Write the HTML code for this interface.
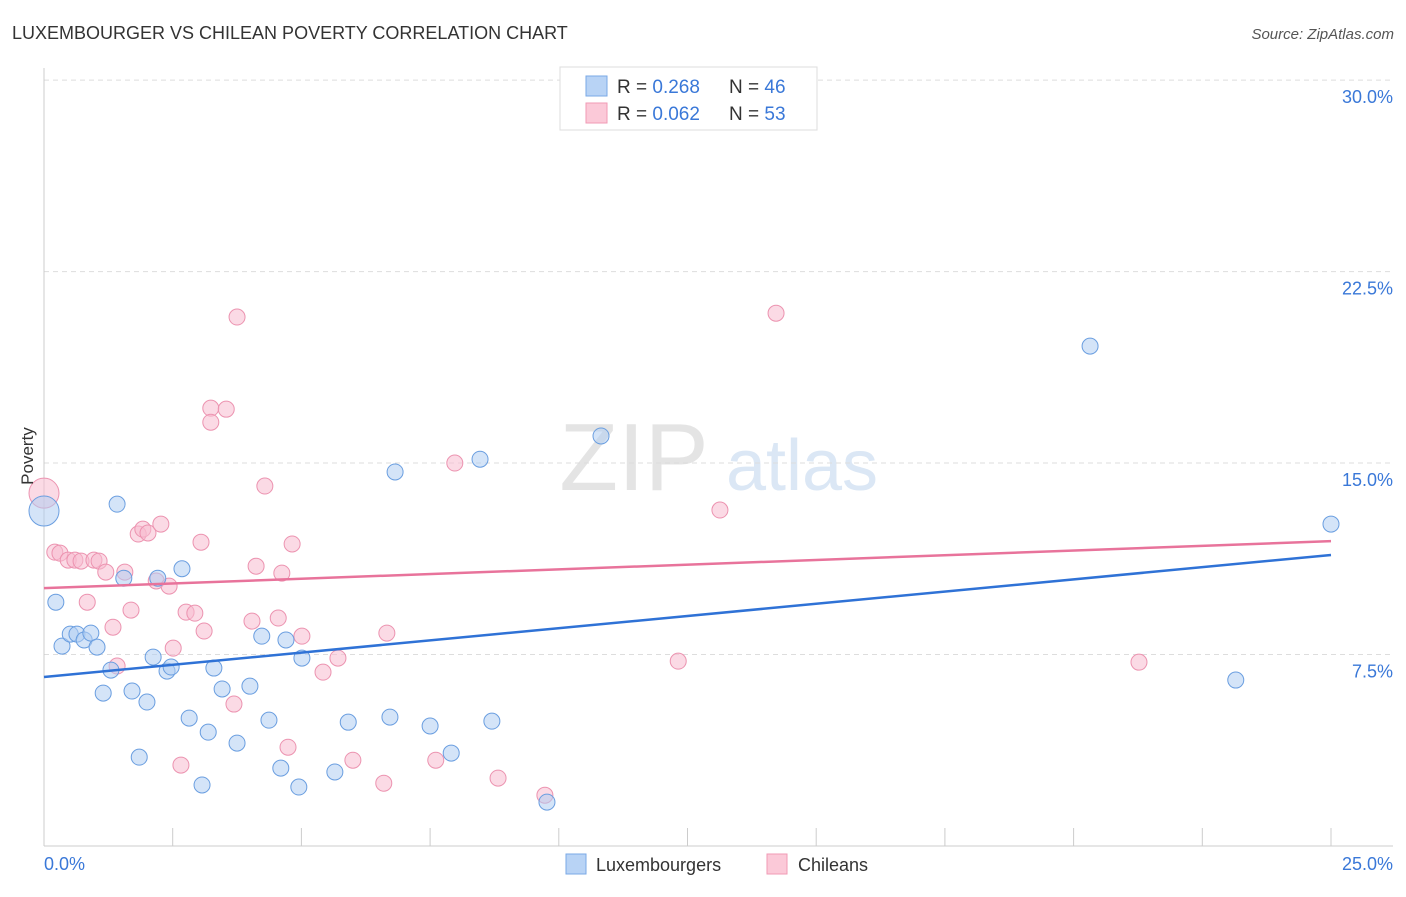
<!DOCTYPE html>
<html><head><meta charset="utf-8"><style>
body{margin:0;background:#fff;font-family:"Liberation Sans",sans-serif;}
svg text{font-family:"Liberation Sans",sans-serif;}
</style></head><body>
<svg id="chart" width="1406" height="892" viewBox="0 0 1406 892">
<text x="12" y="39" font-size="18" fill="#333">LUXEMBOURGER VS CHILEAN POVERTY CORRELATION CHART</text>
<text x="1394" y="39" font-size="15" fill="#555" font-style="italic" text-anchor="end">Source: ZipAtlas.com</text>
<g><text x="634" y="490" font-size="96" fill="#e4e4e4" text-anchor="middle" font-family="Liberation Serif,serif">ZIP</text><text x="802" y="490" font-size="72" fill="#dbe7f5" text-anchor="middle">atlas</text></g>
<g id="grid"></g>
<g id="axes"></g>
<g id="marks"></g>
<text x="33" y="456" font-size="17" fill="#333" text-anchor="middle" transform="rotate(-90 33 456)">Poverty</text>
<g>
<rect x="560" y="67" width="257" height="63" fill="#fff" stroke="#ddd"/>
<rect x="586" y="76" width="21" height="20" fill="#b8d3f5" stroke="#7aa8e6"/>
<rect x="586" y="103" width="21" height="20" fill="#fbc9d8" stroke="#f09ab5"/>
<text x="617" y="93" font-size="19" fill="#333">R = <tspan fill="#3a78d8">0.268</tspan></text>
<text x="729" y="93" font-size="19" fill="#333">N = <tspan fill="#3a78d8">46</tspan></text>
<text x="617" y="120" font-size="19" fill="#333">R = <tspan fill="#3a78d8">0.062</tspan></text>
<text x="729" y="120" font-size="19" fill="#333">N = <tspan fill="#3a78d8">53</tspan></text>
</g>
<g>
<rect x="566" y="854" width="20" height="20" fill="#b8d3f5" stroke="#7aa8e6"/>
<text x="596" y="871" font-size="18" fill="#333">Luxembourgers</text>
<rect x="767" y="854" width="20" height="20" fill="#fbc9d8" stroke="#f09ab5"/>
<text x="798" y="871" font-size="18" fill="#333">Chileans</text>
</g>
</svg>
<script>
const yTicks=[7.5,15,22.5,30];
const yTickLabels=["7.5%","15.0%","22.5%","30.0%"];
const xTickLabels=["0.0%","25.0%"];
const luxX=[0,0.23,0.35,0.51,0.64,0.78,0.91,1.03,1.30,1.15,1.42,1.55,1.71,1.85,2.00,2.12,2.21,2.39,2.47,2.68,2.82,3.07,3.19,3.30,3.46,3.75,4.00,4.23,4.37,4.60,4.70,4.95,5.01,5.65,5.91,6.72,6.82,7.50,7.91,8.47,8.70,9.77,10.82,20.32,23.15,25.0];
const luxY=[13.12,9.55,7.83,8.30,8.30,8.07,8.34,7.79,6.89,5.99,13.39,10.49,6.07,3.48,5.64,7.40,10.49,6.85,7.01,10.86,5.01,2.39,4.46,6.97,6.15,4.03,6.26,8.22,4.93,3.05,8.07,2.31,7.36,2.90,4.85,5.05,14.65,4.70,3.64,15.15,4.89,1.72,16.06,19.58,6.50,12.61];
const chiX=[0,0.21,0.31,0.47,0.60,0.72,0.84,0.97,1.07,1.20,1.34,1.42,1.57,1.69,1.83,1.92,2.02,2.18,2.27,2.43,2.51,2.66,2.76,2.93,3.05,3.11,3.69,3.24,3.54,3.24,3.75,4.04,4.12,4.29,4.55,4.62,4.74,4.82,5.01,5.42,5.71,6.00,6.60,6.66,7.61,7.98,8.82,9.73,12.32,13.13,14.22,21.27,14.06];
const chiY=[13.82,11.51,11.47,11.20,11.20,11.16,9.55,11.20,11.16,10.73,8.57,7.05,10.73,9.24,12.22,12.41,12.26,10.38,12.61,10.18,7.75,3.17,9.16,9.12,11.90,8.42,5.56,17.15,17.11,16.60,20.72,8.81,10.96,14.10,8.93,10.69,3.87,11.83,8.22,6.81,7.36,3.36,2.46,8.34,3.36,15.00,2.66,1.99,7.24,13.16,20.87,7.20,29.69];
const trendX=[0,25];
const luxTrend=[6.62,11.40];
const chiTrend=[10.10,11.94];
const NS="http://www.w3.org/2000/svg";
const xs=v=>44+v*51.48, ys=v=>846-v*25.53;
function mk(tag,attrs,parent){const e=document.createElementNS(NS,tag);for(const k in attrs)e.setAttribute(k,attrs[k]);parent.appendChild(e);return e;}
const grid=document.getElementById('grid'),axes=document.getElementById('axes'),marks=document.getElementById('marks');
yTicks.forEach((t,i)=>{
  const l=mk('line',{x1:44,x2:1393,y1:ys(t),y2:ys(t),stroke:'#ddd','stroke-dasharray':'5,4'},grid);
  
  
  const tx=mk('text',{x:1393,y:ys(t)+23,'font-size':18,fill:'#3a78d8','text-anchor':'end'},axes);
  tx.textContent=yTickLabels[i];
  
  
});
const ya=mk('line',{x1:44,x2:44,y1:68,y2:846,stroke:'#ccc'},axes);


const xa=mk('line',{x1:44,x2:1393,y1:846,y2:846,stroke:'#ccc'},axes);


for(let i=1;i<=10;i++){
  const t=mk('line',{x1:xs(i*2.5),x2:xs(i*2.5),y1:828,y2:846,stroke:'#ccc'},axes);
  
  
}
const xl0=mk('text',{x:44,y:870,'font-size':18,fill:'#3a78d8'},axes);
xl0.textContent=xTickLabels[0];


const xl1=mk('text',{x:1393,y:870,'font-size':18,fill:'#3a78d8','text-anchor':'end'},axes);
xl1.textContent=xTickLabels[1];


function pts(X,Y,fill,stroke,name){
  X.forEach((x,i)=>{
    const r=i===0?15:8;
    const c=mk('circle',{cx:xs(x),cy:ys(Y[i]),r:r,fill:fill,'fill-opacity':0.55,stroke:stroke,'stroke-width':1},marks);
    
    
  });
}
pts(chiX,chiY,'#f8bcd0','#ec93b0','chilean-point');
pts(luxX,luxY,'#b0cdf2','#6a9ee0','luxembourger-point');
const tl1=mk('line',{x1:xs(trendX[0]),x2:xs(trendX[1]),y1:ys(luxTrend[0]),y2:ys(luxTrend[1]),stroke:'#2f72d6','stroke-width':2.5},marks);


const tl2=mk('line',{x1:xs(trendX[0]),x2:xs(trendX[1]),y1:ys(chiTrend[0]),y2:ys(chiTrend[1]),stroke:'#e8739b','stroke-width':2.5},marks);


</script>
</body></html>
